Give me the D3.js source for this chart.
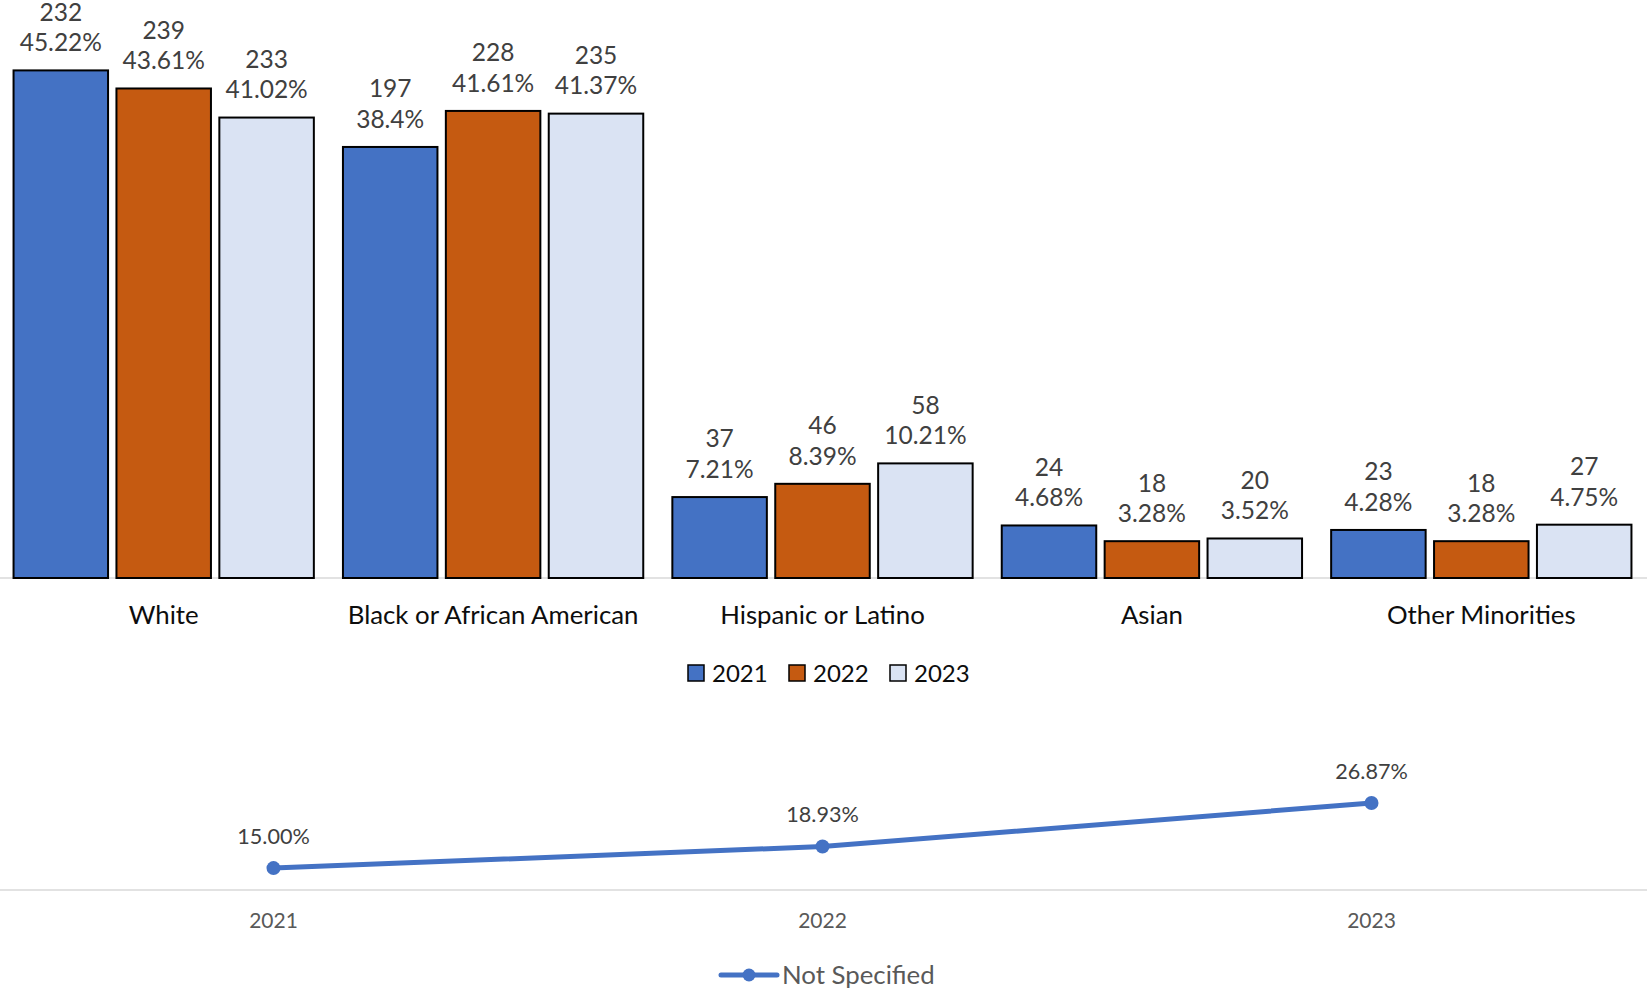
<!DOCTYPE html>
<html>
<head>
<meta charset="utf-8">
<script src="https://cdn.jsdelivr.net/npm/d3@7"></script>
<style>
  html, body { margin: 0; padding: 0; background: #fff; }
  svg { display: block; font-family: Lato, "Open Sans", sans-serif; }
</style>
</head>
<body>
<svg id="chart"></svg>
<script>
// data
const categories = ["White", "Black or African American", "Hispanic or Latino", "Asian", "Other Minorities"];
const years = ["2021", "2022", "2023"];
const counts2021 = [232, 197, 37, 24, 23];
const counts2022 = [239, 228, 46, 18, 18];
const counts2023 = [233, 235, 58, 20, 27];
const pct2021 = [45.22, 38.4, 7.21, 4.68, 4.28];
const pct2022 = [43.61, 41.61, 8.39, 3.28, 3.28];
const pct2023 = [41.02, 41.37, 10.21, 3.52, 4.75];
const notSpecified = [15.00, 18.93, 26.87];
const yearColors = ["#4472C4", "#C55A11", "#DAE3F3"];

const width = 1647, height = 990;
const svg = d3.select("#chart").attr("width", width).attr("height", height);

// build rows for the grouped bars
const counts = [counts2021, counts2022, counts2023];
const pcts = [pct2021, pct2022, pct2023];
const bars = [];
categories.forEach((c, i) => {
    years.forEach((y, j) => {
        bars.push({ category: c, year: y, count: counts[j][i], pct: pcts[j][i] });
    });
});

// --- top chart: grouped bars ---
const x0 = d3.scaleBand().domain(categories).range([-1, 1646]);
const x1 = d3.scaleBand().domain(years).range([0, x0.bandwidth()])
    .paddingInner(0.0816).paddingOuter(0.1414);
const y = d3.scaleLinear().domain([0, 50]).range([578, 16.75]);

// category axis line
svg.append("line")
    .attr("x1", 0).attr("x2", width)
    .attr("y1", y(0)).attr("y2", y(0))
    .attr("stroke", "#D9D9D9").attr("stroke-width", 1.5);

const barG = svg.append("g");
barG.selectAll("rect")
    .data(bars)
    .join("rect")
    .attr("x", d => x0(d.category) + x1(d.year))
    .attr("y", d => y(d.pct))
    .attr("width", x1.bandwidth())
    .attr("height", d => y(0) - y(d.pct))
    .attr("fill", d => yearColors[years.indexOf(d.year)])
    .attr("stroke", "#000")
    .attr("stroke-width", 2);

// two line data labels: count over percent
const lbl = barG.selectAll("g.lbl")
    .data(bars)
    .join("g")
    .attr("class", "lbl")
    .attr("transform", d => `translate(${x0(d.category) + x1(d.year) + x1.bandwidth() / 2},${y(d.pct)})`)
    .attr("text-anchor", "middle")
    .attr("fill", "#404040")
    .attr("font-size", 24.5);
lbl.append("text").attr("y", -58.5).attr("dy", "0.36em").text(d => d.count);
lbl.append("text").attr("y", -28).attr("dy", "0.36em").text(d => d.pct + "%");

// category labels
svg.append("g")
    .selectAll("text")
    .data(categories)
    .join("text")
    .attr("x", d => x0(d) + x0.bandwidth() / 2)
    .attr("y", 614.5)
    .attr("dy", "0.36em")
    .attr("text-anchor", "middle")
    .attr("font-size", 25.8)
    .attr("fill", "#0D0D0D")
    .text(d => d);

// year legend
const legend = svg.append("g").attr("transform", "translate(688,673)");
const item = legend.selectAll("g")
    .data(years)
    .join("g")
    .attr("transform", (d, i) => `translate(${i * 101},0)`);
item.append("rect")
    .attr("x", 0).attr("y", -8)
    .attr("width", 16).attr("height", 16)
    .attr("fill", (d, i) => yearColors[i])
    .attr("stroke", "#000").attr("stroke-width", 1.5);
item.append("text")
    .attr("x", 24).attr("dy", "0.36em")
    .attr("font-size", 24).attr("fill", "#0D0D0D")
    .text(d => d);

// --- bottom chart: Not Specified line ---
const xL = d3.scaleBand().domain(years).range([-1, 1646]);
const yL = d3.scaleLinear().domain([11, 30]).range([890, 785.9]);
const cx = d => xL(d) + xL.bandwidth() / 2;

svg.append("line")
    .attr("x1", 0).attr("x2", width)
    .attr("y1", yL(11)).attr("y2", yL(11))
    .attr("stroke", "#D9D9D9").attr("stroke-width", 1.5);

const axisL = svg.append("g")
    .attr("transform", `translate(0,${yL(11)})`)
    .call(d3.axisBottom(xL).tickSize(0).tickPadding(0));
axisL.select(".domain").remove();
axisL.selectAll("text")
    .attr("y", 30).attr("dy", "0.36em")
    .attr("font-family", "Lato, sans-serif")
    .attr("font-size", 21)
    .attr("fill", "#595959");

const pts = years.map((yr, i) => ({ year: yr, v: notSpecified[i] }));
svg.append("path")
    .datum(pts)
    .attr("fill", "none")
    .attr("stroke", "#4472C4")
    .attr("stroke-width", 5)
    .attr("stroke-linecap", "round")
    .attr("d", d3.line().x(d => cx(d.year)).y(d => yL(d.v)));

svg.append("g")
    .selectAll("circle")
    .data(pts)
    .join("circle")
    .attr("cx", d => cx(d.year))
    .attr("cy", d => yL(d.v))
    .attr("r", 7)
    .attr("fill", "#4472C4");

svg.append("g")
    .selectAll("text")
    .data(pts)
    .join("text")
    .attr("x", d => cx(d.year))
    .attr("y", d => yL(d.v) - 32)
    .attr("dy", "0.36em")
    .attr("text-anchor", "middle")
    .attr("font-size", 21.6)
    .attr("fill", "#404040")
    .text(d => d.v.toFixed(2) + "%");

// line legend
const lg = svg.append("g").attr("transform", "translate(721,975)");
lg.append("line")
    .attr("x1", 0).attr("x2", 56)
    .attr("stroke", "#4472C4").attr("stroke-width", 5).attr("stroke-linecap", "round");
lg.append("circle").attr("cx", 28).attr("r", 6.5).attr("fill", "#4472C4");
lg.append("text")
    .attr("x", 61).attr("dy", "0.36em")
    .attr("font-size", 25.8).attr("fill", "#595959")
    .text("Not Specified");
</script>
</body>
</html>
